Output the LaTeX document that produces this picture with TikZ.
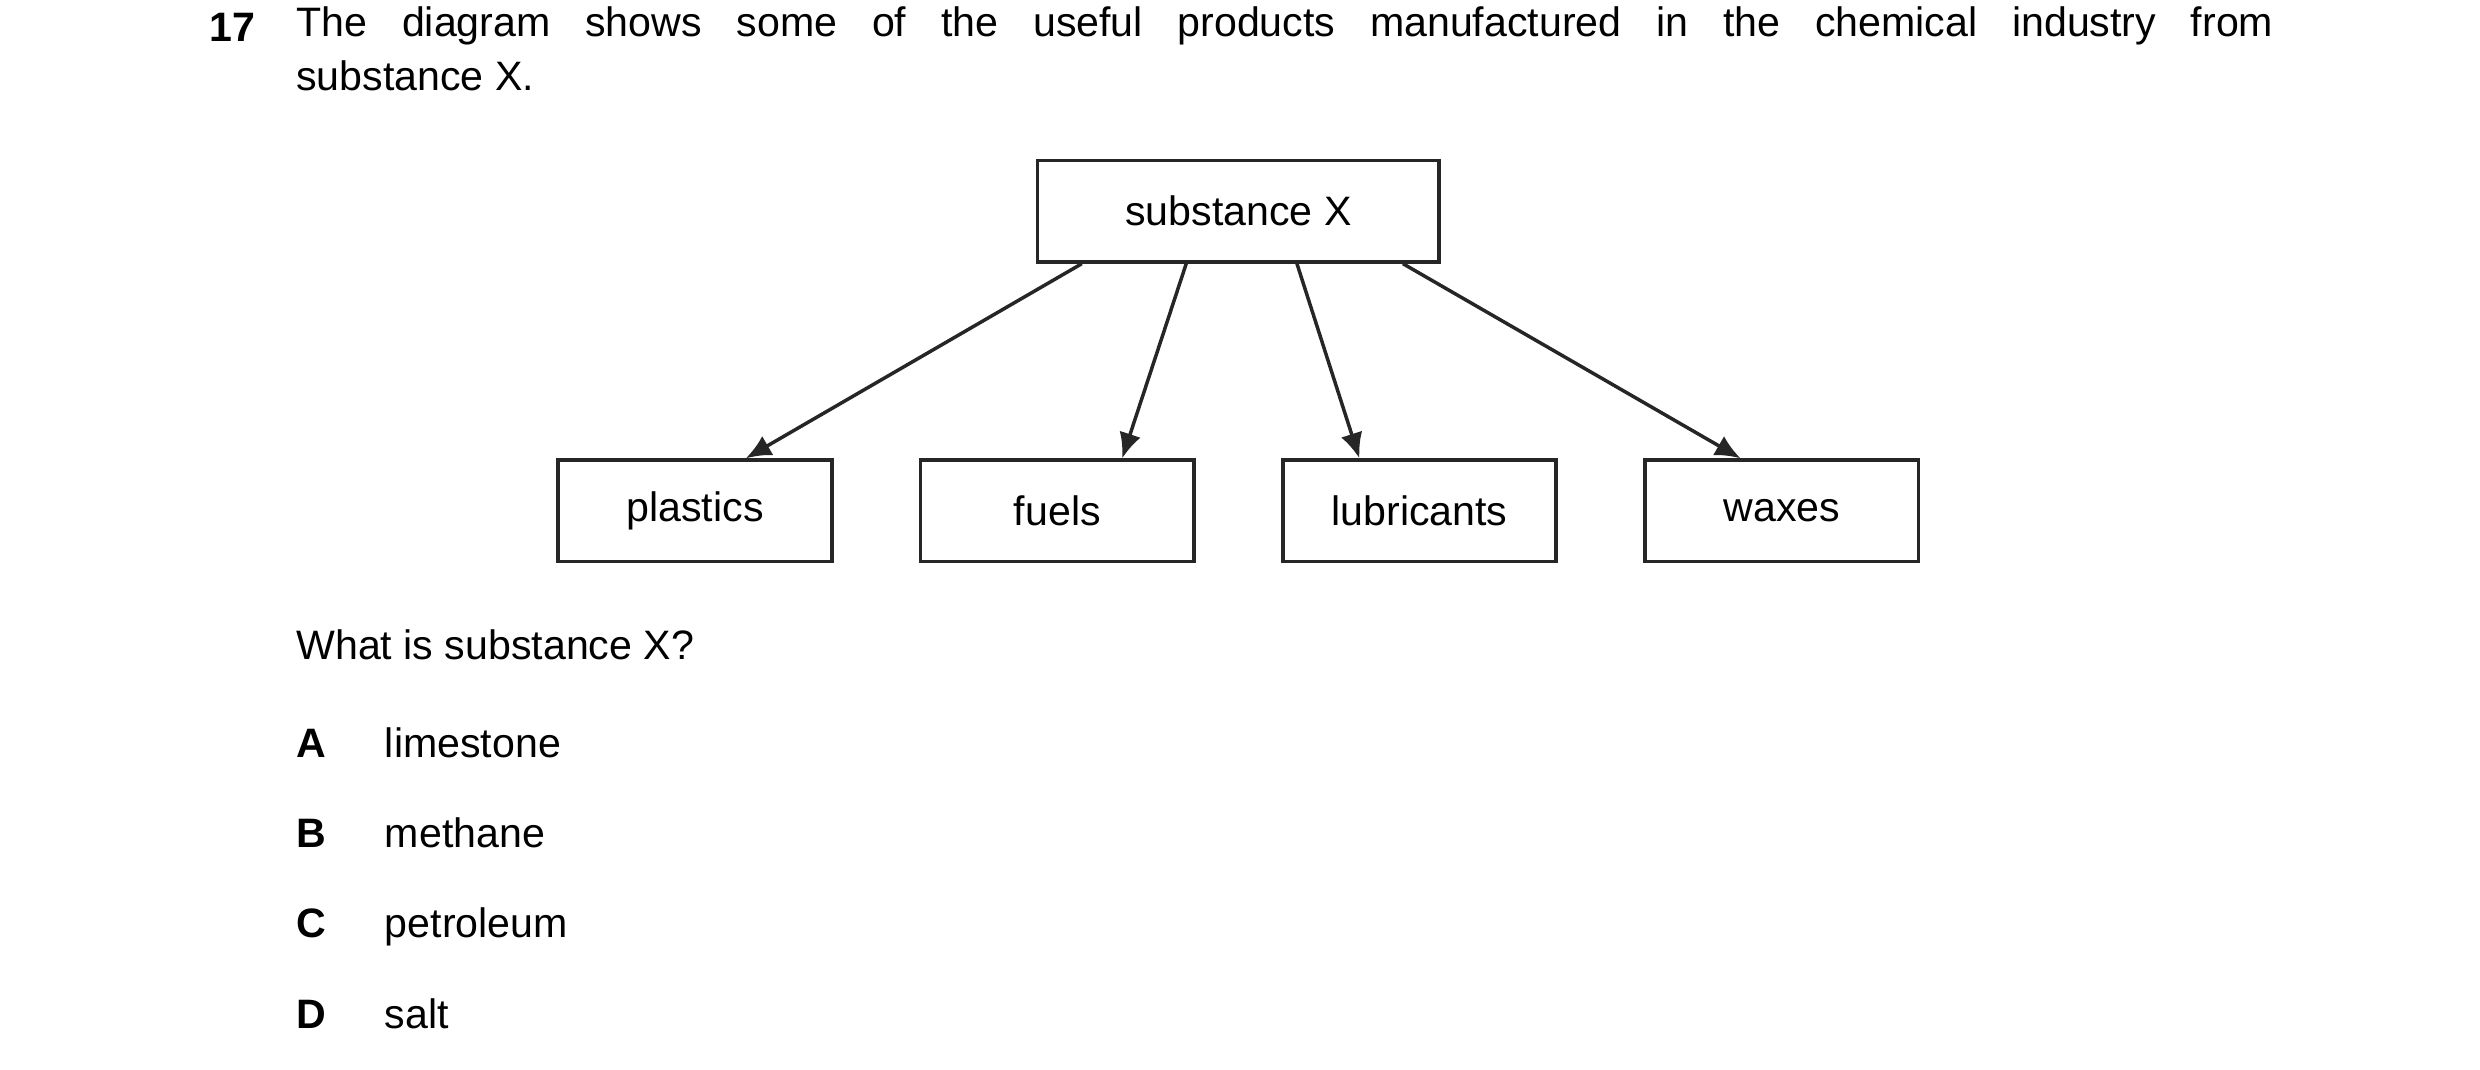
\documentclass[tikz,border=0pt]{standalone}
\usepackage{fontspec}
\setmainfont{Liberation Sans}
\usetikzlibrary{arrows.meta}
\begin{document}
\begin{tikzpicture}[x=0.5pt,y=-0.5pt,
  box/.style={draw=black!85,line width=1.2pt,minimum width=86.5pt,minimum height=32pt,inner sep=0pt,font=\fontsize{13}{16}\selectfont},
  arr/.style={draw=black!85,line width=1.1pt,-{Latex[length=8pt,width=7pt]}},
  txt/.style={anchor=base west,inner sep=0pt,font=\fontsize{13}{17}\selectfont}]
\useasboundingbox (0,0) rectangle (1568,676);
\node[txt,font=\fontsize{13}{17}\selectfont\bfseries] (num) at (132,26) {17};
\node[anchor=north west,inner sep=0pt,text width=625pt,align=justify,font=\fontsize{13}{17}\selectfont] (q) at (187,4)
 {The diagram shows some of the useful products manufactured in the chemical industry from\linebreak substance X.};
\node[box,minimum width=127pt] (X) at (783,133.5) {substance X};
\node[box] (p) at (439.5,323) {plastics};
\node[box] (f) at (668.5,323) {fuels};
\node[box] (l) at (897.5,323) {lubricants};
\node[box] (w) at (1126.5,323) {waxes};
\draw[arr] ([xshift=-49.5pt]X.south) -- ([xshift=16pt]p.north);
\draw[arr] ([xshift=-16.5pt]X.south) -- ([xshift=20.5pt]f.north);
\draw[arr] ([xshift=18.5pt]X.south) -- ([xshift=-19pt]l.north);
\draw[arr] ([xshift=52pt]X.south) -- ([xshift=-13pt]w.north);
\node[txt] (wq) at (187,417) {What is substance X?};
\foreach \L/\t/\y [count=\i] in {A/limestone/479,B/methane/536,C/petroleum/593,D/salt/650}{
  \node[txt,font=\fontsize{13}{17}\selectfont\bfseries] (l\i) at (187,\y) {\L};
  \node[txt] (o\i) at (243,\y) {\t};
}
\end{tikzpicture}
\end{document}
